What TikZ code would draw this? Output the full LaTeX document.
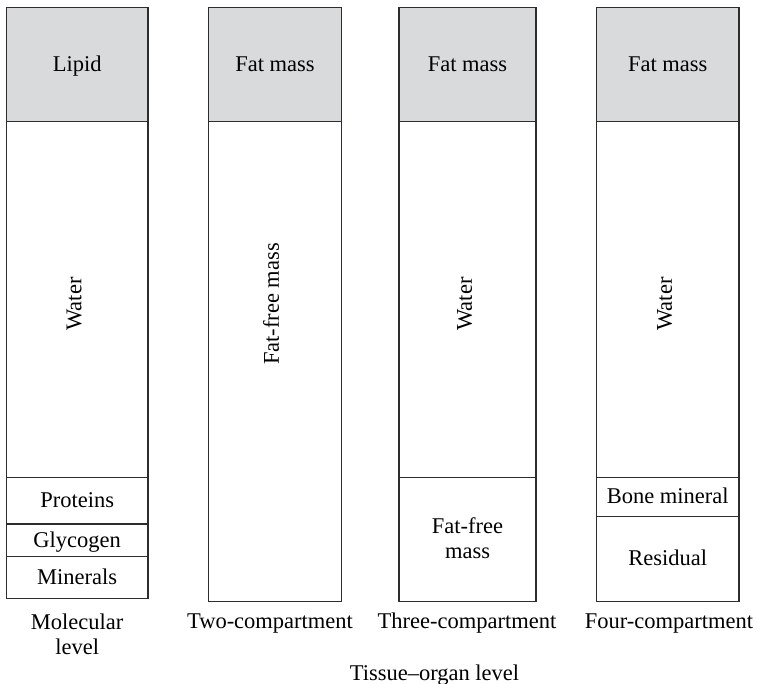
\documentclass[tikz,border=0pt]{standalone}
\usepackage{fontspec}
\setmainfont{Liberation Serif}
\usepackage{tikz}
\definecolor{fatgrey}{RGB}{217,218,220}
\definecolor{edge}{RGB}{45,45,45}

\begin{document}
\begin{tikzpicture}[
  x=1pt, y=-1pt,
  font=\fontsize{22.5}{25}\selectfont,
  fat/.style={draw=edge, fill=fatgrey, line width=1.2pt},
  part/.style={draw=edge, line width=1.2pt},
  lbl/.style={inner sep=0pt, text height=.68em, text depth=.22em},
  twoline/.style={inner sep=0pt, align=center}]
 \useasboundingbox (0,0) rectangle (757,684);
 % molecular level
 \draw[fat]  (6.5,7.5)   rectangle (148,121.5);
 \draw[part] (6.5,121.5) rectangle (148,477.5);
 \draw[part] (6.5,477.5) rectangle (148,524);
 \draw[part] (6.5,524)   rectangle (148,556.5);
 \draw[part] (6.5,556.5) rectangle (148,598.5);
 \node[lbl] (lip) at (77.2,69) {Lipid};
 \node[lbl, rotate=90] (wat1) at (79,304) {Water};
 \node[lbl] (pro) at (77.2,505) {Proteins};
 \node[lbl] (gly) at (77.2,545) {Glycogen};
 \node[lbl] (min) at (77.2,582) {Minerals};
 \node[twoline] (mol) at (77.2,634) {Molecular\\level};
 % two-compartment
 \draw[fat]  (208.5,7.5)   rectangle (341.5,121.5);
 \draw[part] (208.5,121.5) rectangle (341.5,601.5);
 \node[lbl] (fm2) at (275,69) {Fat mass};
 \node[lbl, rotate=90] (ffm2) at (276.5,304) {Fat-free mass};
 \node[lbl] (two) at (270,626.5) {Two-compartment};
 % three-compartment
 \draw[fat]  (399,7.5)   rectangle (536,121.5);
 \draw[part] (399,121.5) rectangle (536,477.5);
 \draw[part] (399,477.5) rectangle (536,601.5);
 \node[lbl] (fm3) at (467.5,69) {Fat mass};
 \node[lbl, rotate=90] (wat3) at (469.5,304) {Water};
 \node[twoline] (ffm3) at (467.5,538) {Fat-free\\mass};
 \node[lbl] (three) at (467,626.5) {Three-compartment};
 % four-compartment
 \draw[fat]  (596.5,7.5)   rectangle (739,121.5);
 \draw[part] (596.5,121.5) rectangle (739,477.5);
 \draw[part] (596.5,477.5) rectangle (739,516.5);
 \draw[part] (596.5,516.5) rectangle (739,601.5);
 \node[lbl] (fm4) at (667.7,69) {Fat mass};
 \node[lbl, rotate=90] (wat4) at (669.5,304) {Water};
 \node[lbl] (bone) at (667.7,501.5) {Bone mineral};
 \node[lbl] (res) at (667.7,563.5) {Residual};
 \node[lbl] (four) at (669,626.5) {Four-compartment};
 \node[lbl] (tissue) at (434.5,678) {Tissue--organ level};
\end{tikzpicture}
\end{document}
